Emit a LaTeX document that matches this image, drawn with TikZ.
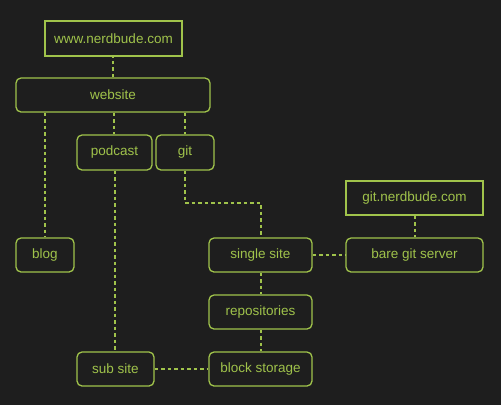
\documentclass[tikz,border=0pt]{standalone}
\usepackage{fontspec}
\setmainfont{Liberation Sans}
\definecolor{bg}{RGB}{30,30,30}
\definecolor{fg}{RGB}{160,195,75}
\begin{document}
\begin{tikzpicture}[x=1bp,y=-1bp,
  box/.style={draw=fg,line width=1.3bp,text=fg,font=\fontsize{13.5bp}{16bp}\selectfont,inner sep=0pt,anchor=center},
  rbox/.style={box,rounded corners=5bp},
  link/.style={draw=fg,line width=1.3bp,dash pattern=on 3.5bp off 3bp}]
\fill[bg] (0,0) rectangle (501,405);
\useasboundingbox (0,0) rectangle (501,405);
\node[box,minimum width=137bp,minimum height=35bp] (www) at (113.5,38.5) {www.nerdbude.com};
\node[rbox,minimum width=194bp,minimum height=34bp] (web) at (113,95) {website};
\node[rbox,minimum width=75bp,minimum height=35bp] (pod) at (114.5,152.5) {podcast};
\node[rbox,minimum width=58bp,minimum height=35bp] (git) at (185,152.5) {git};
\node[rbox,minimum width=58bp,minimum height=34bp] (blog) at (45,255) {blog};
\node[rbox,minimum width=103bp,minimum height=34bp] (single) at (260.5,255) {single site};
\node[rbox,minimum width=137bp,minimum height=34bp] (bare) at (414.5,255) {bare git server};
\node[box,minimum width=137bp,minimum height=34bp] (gitn) at (414.5,198) {git.nerdbude.com};
\node[rbox,minimum width=103bp,minimum height=34bp] (repo) at (260.5,312) {repositories};
\node[rbox,minimum width=103bp,minimum height=34bp] (block) at (260.5,369) {block storage};
\node[rbox,minimum width=77bp,minimum height=34bp] (sub) at (115.5,369) {sub site};
\coordinate (xpod) at (114,0);
\coordinate (xsub) at (115,0);
\coordinate (xmid) at (261,0);
\coordinate (xbare) at (415,0);
\coordinate (c1) at (185,203);
\coordinate (c2) at (261,203);
\draw[link] (web.north) -- (web.north |- www.south);
\draw[link] (web.south -| blog.north) -- (blog.north);
\draw[link] (web.south -| xpod) -- (pod.north -| xpod);
\draw[link] (web.south -| git.north) -- (git.north);
\draw[link] (pod.south -| xsub) -- (sub.north -| xsub);
\draw[link] (git.south) -- (c1) -- (c2) -- (single.north -| c2);
\draw[link] (single.east) -- (bare.west);
\draw[link] (gitn.south -| xbare) -- (bare.north -| xbare);
\draw[link] (single.south -| xmid) -- (repo.north -| xmid);
\draw[link] (repo.south -| xmid) -- (block.north -| xmid);
\draw[link] (sub.east) -- (block.west);
\end{tikzpicture}
\end{document}
